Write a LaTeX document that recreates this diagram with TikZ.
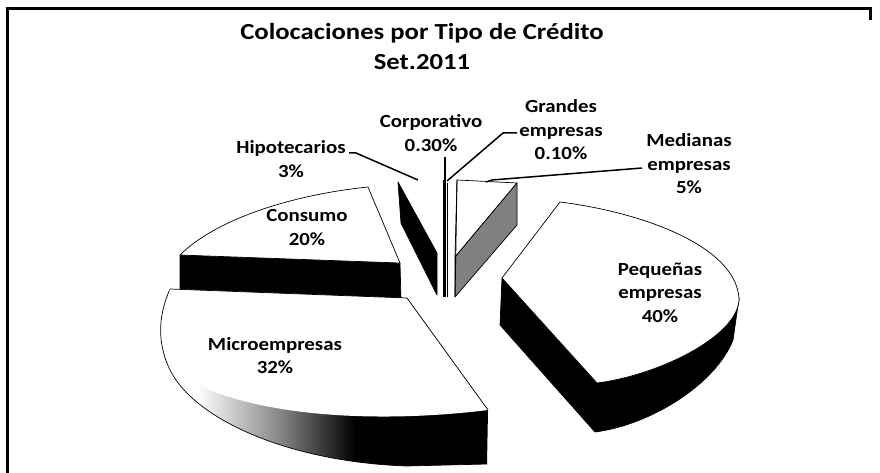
\documentclass[tikz,border=0pt]{standalone}
\usepackage{fontspec}
\setmainfont{Carlito}
\newfontfamily\titlefont{Carlito}[FakeStretch=1.16]
\newfontfamily\labelfont{Carlito}[FakeStretch=1.13]
\newcommand\lbltab[1]{\begin{tabular}[t]{@{}c@{}}#1\end{tabular}}
\pgfdeclarehorizontalshading{microside}{100bp}{color(0bp)=(white); color(31bp)=(white); color(43bp)=(black!45); color(55bp)=(black); color(100bp)=(black)}
\begin{document}
\begin{tikzpicture}[x=1pt,y=-1pt,
  lbl/.style={anchor=base, inner sep=0pt, font=\labelfont\bfseries\fontsize{18.5}{23.5}\selectfont},
  ttl/.style={anchor=base, inner sep=0pt, font=\titlefont\bfseries\fontsize{23}{30}\selectfont},
  face/.style={fill=white, draw=black, line width=0.7pt, line join=round},
  darkface/.style={fill=black, draw=black, line width=0.7pt, line join=round},
  greyface/.style={fill=black!50, draw=black, line width=0.7pt, line join=round},
  leader/.style={draw=black, line width=1.5pt, line join=round},
  frameline/.style={draw=black, line width=3pt}
]
\useasboundingbox (0,0) rectangle (880,473);
% frame
\draw[frameline] (7,473) -- (7,9) -- (870,9) -- (870,20);

% Consumo
\path[darkface] (180,255) -- (400,263) -- (401,300) -- (180,300) -- cycle;
\path[face] (180,255) .. controls (215,220) and (290,195) .. (368,187) -- (400,263) -- cycle;

% Hipotecarios
\path[darkface] (398,182) -- (437,253) -- (437,295) -- (401,223) -- cycle;

% Corporativo / Grandes empresas slivers
\draw[line width=2.4pt] (444.5,180) -- (444.5,297);
\draw[line width=1pt] (447.8,183) -- (447.8,297);

% Medianas empresas
\path[face] (457,180) -- (517,183) -- (455,257) -- cycle;
\path[greyface] (517,183) -- (517,225) -- (455,297) -- (455,257) -- cycle;
\draw[line width=0.9pt] (457,180) -- (455,297);

% Microempresas
\shade[shading=microside] (170,289) .. controls (157,318) and (158,345) .. (170,370)
   .. controls (195,420) and (290,462) .. (407,466) -- (487,464) -- (488,410) -- (407,298) -- cycle;
\draw[line width=0.7pt] (170,289) .. controls (157,318) and (158,345) .. (170,370)
   .. controls (195,420) and (290,462) .. (407,466) -- (487,464);
\fill[white] (170,289) -- (407,298) -- (488,410) .. controls (400,421) and (290,420) .. (215,392)
   .. controls (180,378) and (158,340) .. (170,289) -- cycle;
\draw[line width=0.7pt, line join=round] (170,289) -- (407,298) -- (488,410);

% Pequenas empresas
\path[darkface] (502,278) -- (597,383) .. controls (660,375) and (740,335) .. (739,298)
   -- (733,340) .. controls (715,385) and (650,425) .. (595,432) -- (500,325) -- cycle;
\path[face] (502,278) -- (560,202) .. controls (640,212) and (735,245) .. (739,298)
   .. controls (740,335) and (660,375) .. (597,383) -- cycle;

% labels
\node[ttl] (title) at (422,40) {\lbltab{Colocaciones por Tipo de Crédito\\Set.2011}};
\node[lbl] (hipo) at (291,154) {\lbltab{Hipotecarios\\3\%}};
\node[lbl] (corp) at (431,128) {\lbltab{Corporativo\\0.30\%}};
\node[lbl] (grandes) at (561,113) {\lbltab{Grandes\\empresas\\0.10\%}};
\node[lbl] (medianas) at (689,147) {\lbltab{Medianas\\empresas\\5\%}};
\node[lbl] (consumo) at (307,222) {\lbltab{Consumo\\20\%}};
\node[lbl] (pequenas) at (660,275) {\lbltab{Pequeñas\\empresas\\40\%}};
\node[lbl] (micro) at (275,350) {\lbltab{Microempresas\\32\%}};

% leader lines
\coordinate (hipoA) at (349,153);
\coordinate (hipoB) at (418,180);
\coordinate (corpA) at (445,157);
\coordinate (corpB) at (445,181);
\coordinate (grandesA) at (517,133);
\coordinate (grandesB) at (447,181);
\coordinate (medianasA) at (642,168);
\coordinate (medianasB) at (486,182);
\draw[leader] (hipoA) -- ++(7,0) -- (hipoB);
\draw[leader] (corpA) -- (corpB);
\draw[leader] (grandesA) -- ++(-14,0) -- (grandesB);
\draw[leader] (medianasA) -- ++(-150,12) -- (medianasB);
\end{tikzpicture}
\end{document}
